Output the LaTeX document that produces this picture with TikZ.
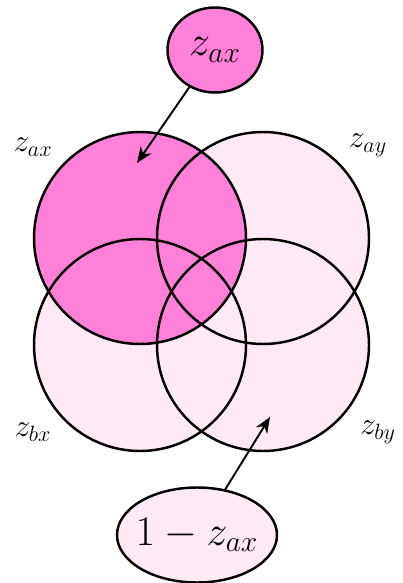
\documentclass[tikz,border=0pt]{standalone}
\usepackage{fix-cm}
\usepackage{amsmath}
\usepackage{xcolor}
\usetikzlibrary{positioning, arrows.meta, shapes.geometric}

\definecolor{pinkdark}{RGB}{255,128,216}
\definecolor{pinklight}{RGB}{255,233,245}

\begin{document}
\begin{tikzpicture}[
    venn/.style={circle, minimum size=4.24cm, inner sep=0pt},
    outline/.style={draw=black, line width=1.4pt},
    bubble/.style={ellipse, draw=black, line width=1.4pt, inner sep=0pt, font=\fontsize{24}{26}\selectfont},
    setlabel/.style={font=\fontsize{18}{20}\selectfont},
    arrow/.style={-{Stealth[length=3.2mm, width=2.6mm]}, line width=1.1pt, black},
]
\useasboundingbox (0,0) rectangle (8.06,-11.66);

% === VENN FILLS ===
\node[venn, fill=pinklight] (ay) at (5.26,-4.76) {};
\node[venn, fill=pinklight] (bx) at (2.80,-6.90) {};
\node[venn, fill=pinklight] (by) at (5.26,-6.90) {};
\node[venn, fill=pinkdark] (ax) at (2.80,-4.76) {};

% === OUTLINES ===
\foreach \n in {ax, ay, bx, by}
    \draw[outline] (\n.center) circle[radius=2.12cm];

% === SET LABELS ===
\node[setlabel] (lax) at (0.66,-2.94) {$z_{ax}$};
\node[setlabel] (lay) at (7.36,-2.90) {$z_{ay}$};
\node[setlabel] (lbx) at (0.66,-8.64) {$z_{bx}$};
\node[setlabel] (lby) at (7.56,-8.64) {$z_{by}$};

% === BUBBLES ===
\node[bubble, fill=pinkdark, minimum width=1.9cm, minimum height=1.7cm] (top) at (4.30,-1.00) {$z_{ax}$};
\node[bubble, fill=pinklight, inner sep=-0.12cm, minimum width=3.2cm, minimum height=1.9cm] (bottom) at (3.94,-10.70) {$1-z_{ax}$};

\coordinate (tipA) at (2.74,-3.26);
\coordinate (tipB) at (5.40,-8.34);

% === ARROWS ===
\draw[arrow] (top) -- (tipA);
\draw[arrow] (bottom) -- (tipB);

\end{tikzpicture}
\end{document}
